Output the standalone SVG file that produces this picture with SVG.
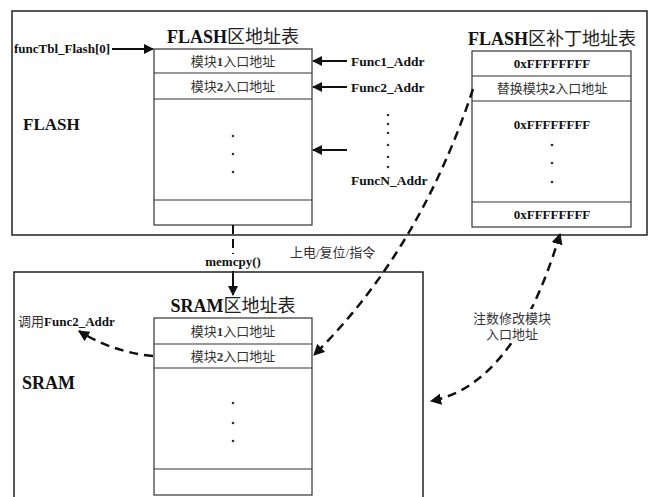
<svg xmlns="http://www.w3.org/2000/svg" width="649" height="497" viewBox="0 0 649 497">
<style>
.box{fill:none;stroke:#222;stroke-width:1.5}
.tbl{fill:#fff;stroke:#333;stroke-width:1.2}
.ln{stroke:#333;stroke-width:1.2}
.en{font-family:"Liberation Serif","Noto Sans CJK SC",serif;font-weight:bold;fill:#111}
.cn{font-family:"Liberation Serif","Noto Sans CJK SC",serif;fill:#333;font-size:13px}
.ttl{font-size:18px;text-anchor:middle}
.tcn{font-family:"Liberation Serif","Noto Sans CJK SC",serif;font-weight:normal;fill:#222;font-size:18px}
.row{text-anchor:middle}
.dot{fill:#333}
.arr{stroke:#111;stroke-width:2;fill:none}
.dash{stroke:#111;stroke-width:2.5;fill:none;stroke-dasharray:9,6}
</style>
<defs>
<marker id="ah" viewBox="0 0 10 10" refX="9" refY="5" markerWidth="5" markerHeight="5" orient="auto-start-reverse" markerUnits="strokeWidth">
<path d="M0,0 L10,5 L0,10 z" fill="#111"/>
</marker>
<marker id="ah2" viewBox="0 0 10 10" refX="9" refY="5" markerWidth="4.5" markerHeight="4.5" orient="auto-start-reverse" markerUnits="strokeWidth">
<path d="M0,0 L10,5 L0,10 z" fill="#111"/>
</marker>
</defs>
<rect width="649" height="497" fill="#fff"/>

<g id="flash-region">
<rect class="box" x="12" y="11" width="635" height="224"/>
<text class="en" x="23" y="130" font-size="17">FLASH</text>
<text class="en" x="14" y="53" font-size="13">funcTbl_Flash[0]</text>
</g>

<g id="flash-table">
<text class="en ttl" x="233" y="43">FLASH<tspan class="tcn">区地址表</tspan></text>
<rect class="tbl" x="154" y="49" width="158" height="176"/>
<line class="ln" x1="154" y1="73" x2="312" y2="73"/>
<line class="ln" x1="154" y1="99" x2="312" y2="99"/>
<line class="ln" x1="154" y1="200" x2="312" y2="200"/>
<text class="cn row" x="233" y="66">模块<tspan font-weight="bold">1</tspan>入口地址</text>
<text class="cn row" x="233" y="91">模块<tspan font-weight="bold">2</tspan>入口地址</text>
<circle class="dot" cx="233" cy="136" r="1.3"/>
<circle class="dot" cx="233" cy="154" r="1.3"/>
<circle class="dot" cx="233" cy="172" r="1.3"/>
</g>

<g id="func-addrs">
<text class="en" x="351" y="66" font-size="13.5">Func1_Addr</text>
<text class="en" x="351" y="92" font-size="13.5">Func2_Addr</text>
<text class="en" x="351" y="185" font-size="13.5">FuncN_Addr</text>
<circle class="dot" cx="388" cy="115" r="1.3"/>
<circle class="dot" cx="388" cy="124" r="1.3"/>
<circle class="dot" cx="388" cy="133" r="1.3"/>
<circle class="dot" cx="388" cy="145" r="1.3"/>
<circle class="dot" cx="388" cy="157" r="1.3"/>
<circle class="dot" cx="388" cy="167" r="1.3"/>
</g>

<g id="patch-table">
<text class="en ttl" x="552" y="45">FLASH<tspan class="tcn">区补丁地址表</tspan></text>
<rect class="tbl" x="472" y="51" width="159" height="176"/>
<line class="ln" x1="472" y1="76" x2="631" y2="76"/>
<line class="ln" x1="472" y1="101" x2="631" y2="101"/>
<line class="ln" x1="472" y1="202" x2="631" y2="202"/>
<text class="en row" x="552" y="68" font-size="13">0xFFFFFFFF</text>
<text class="cn row" x="552" y="93">替换模块<tspan font-weight="bold">2</tspan>入口地址</text>
<text class="en row" x="552" y="129" font-size="13">0xFFFFFFFF</text>
<circle class="dot" cx="552" cy="145" r="1.3"/>
<circle class="dot" cx="552" cy="163" r="1.3"/>
<circle class="dot" cx="552" cy="182" r="1.3"/>
<text class="en row" x="552" y="219" font-size="13">0xFFFFFFFF</text>
</g>

<g id="sram-region">
<rect class="box" x="14" y="272" width="409" height="240"/>
<text class="en" x="22" y="389" font-size="18">SRAM</text>
</g>

<g id="sram-table">
<text class="en ttl" x="233" y="312">SRAM<tspan class="tcn">区地址表</tspan></text>
<rect class="tbl" x="154" y="318" width="158" height="177"/>
<line class="ln" x1="154" y1="344" x2="312" y2="344"/>
<line class="ln" x1="154" y1="368" x2="312" y2="368"/>
<line class="ln" x1="154" y1="469" x2="312" y2="469"/>
<text class="cn row" x="233" y="336">模块<tspan font-weight="bold">1</tspan>入口地址</text>
<text class="cn row" x="233" y="361">模块<tspan font-weight="bold">2</tspan>入口地址</text>
<circle class="dot" cx="233" cy="403" r="1.3"/>
<circle class="dot" cx="233" cy="423" r="1.3"/>
<circle class="dot" cx="233" cy="441" r="1.3"/>
</g>

<g id="connectors">
<line class="arr" x1="112" y1="49" x2="153" y2="49" marker-end="url(#ah)"/>
<line class="arr" x1="347" y1="61" x2="313" y2="61" marker-end="url(#ah)"/>
<line class="arr" x1="347" y1="87" x2="313" y2="87" marker-end="url(#ah)"/>
<line class="arr" x1="347" y1="150" x2="313" y2="150" marker-end="url(#ah)"/>
<line x1="233" y1="225" x2="233" y2="254" stroke="#111" stroke-width="2" stroke-dasharray="9,5"/>
<line class="arr" x1="233" y1="271" x2="233" y2="295" marker-end="url(#ah)"/>
<path class="dash" d="M473,89 Q420,250 314,355" marker-end="url(#ah2)"/>
<path class="dash" d="M560,234 Q515,385 431,401" marker-start="url(#ah2)" marker-end="url(#ah2)"/>
<path class="dash" d="M153,356 Q112,352 79,331" marker-end="url(#ah2)"/>
</g>

<g id="labels">
<text class="cn" x="18" y="326">调用<tspan class="en" font-size="13">Func2_Addr</tspan></text>
<text class="en" x="233" y="266" font-size="13" text-anchor="middle">memcpy()</text>
<text class="cn" x="290" y="257">上电/复位/指令</text>
<rect x="472" y="309" width="80" height="34" fill="#fff"/>
<text class="cn" x="512" y="323" text-anchor="middle">注数修改模块</text>
<text class="cn" x="512" y="339" text-anchor="middle">入口地址</text>
</g>
</svg>
